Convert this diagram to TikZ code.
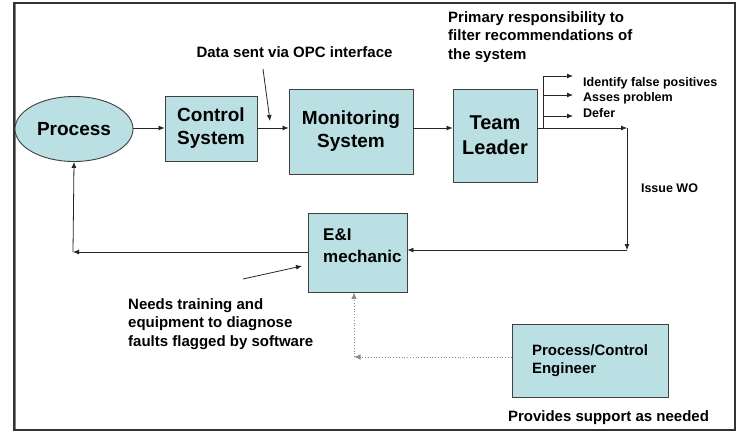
\documentclass[tikz,border=0pt]{standalone}
\usepackage{fontspec}
\setmainfont{Liberation Sans}
\usetikzlibrary{shapes.geometric,arrows.meta}
\definecolor{boxfill}{RGB}{186,224,227}
\definecolor{boxline}{RGB}{64,64,64}
\begin{document}
\begin{tikzpicture}[x=1pt,y=-1pt,
  box/.style={draw=boxline,fill=boxfill,line width=0.9pt,inner sep=0pt},
  big/.style={font=\bfseries\fontsize{19}{23}\selectfont,align=center},
  mid/.style={font=\bfseries\fontsize{15}{18.5}\selectfont,align=left,inner sep=0pt},
  small/.style={font=\bfseries\fontsize{12.5}{15}\selectfont,align=left,inner sep=0pt},
  arr/.style={draw=black!85,line width=0.8pt,-{Latex[length=6pt,width=5pt]}},
  garr/.style={draw=black!45,line width=0.8pt,dotted,-{Latex[length=6.5pt,width=5.5pt]}}]
\useasboundingbox (0,0) rectangle (741,431);
\draw[line width=1.4pt,draw=black!80] (14,3) rectangle (735,430);
\draw[line width=1pt,draw=black!50] (15.5,4) -- (15.5,429);
% nodes
\node[box,ellipse,minimum width=118pt,minimum height=65pt,big] (proc) at (74,129) {Process};
\node[box,minimum width=92pt,minimum height=65pt,big] (ctrl) at (211,128.5) {Control\\System};
\node[box,minimum width=124pt,minimum height=85pt,big] (mon) at (351,131.5) {Monitoring\\System};
\node[box,minimum width=84pt,minimum height=93pt,big,font=\bfseries\fontsize{20}{25}\selectfont] (team) at (495,135.5) {Team\\Leader};
\node[box,minimum width=99pt,minimum height=79pt] (ei) at (357.5,252.5) {};
\node[font=\bfseries\fontsize{17}{22}\selectfont,align=left,inner sep=0pt,anchor=west] (eitext) at (323,246) {E\&I\\mechanic};
\node[box,minimum width=156pt,minimum height=73pt,mid] (eng) at (590,360.5) {Process/Control\\Engineer};
% texts
\node[mid] (opc) at (294.5,52) {Data sent via OPC interface};
\node[mid,anchor=west] (prim) at (448,37) {Primary responsibility to\\filter recommendations of\\the system};
\node[small,anchor=west] (t1) at (583,83) {Identify false positives};
\node[small,anchor=west] (t2) at (583,98) {Asses problem};
\node[small,anchor=west] (t3) at (583,113) {Defer};
\node[small] (wo) at (669.5,188) {Issue WO};
\node[mid,anchor=west] (needs) at (128,324) {Needs training and\\equipment to diagnose\\faults flagged by software};
\node[mid] (prov) at (608.5,418) {Provides support as needed};
% coordinates
\coordinate (c1) at (627,128);
\coordinate (c2) at (627,250);
\coordinate (c3) at (73,252);
\coordinate (c4) at (354,357);
\coordinate (b0) at (543,128);
\coordinate (b1) at (543,76);
\coordinate (b2) at (543,95);
\coordinate (b3) at (543,116);
\coordinate (e1) at (573,76);
\coordinate (e2) at (573,95);
\coordinate (e3) at (573,116);
\coordinate (o1) at (263,69);
\coordinate (o2) at (270,121);
\coordinate (n1) at (243,279);
\coordinate (n2) at (302,266);
% connectors
\draw[arr] (proc.east |- c1) -- (ctrl.west |- c1);
\draw[arr] (ctrl.east |- c1) -- (mon.west |- c1);
\draw[arr] (mon.east |- c1) -- (team.west |- c1);
\draw[arr] (team.east |- c1) -- (c1);
\draw[arr] (c1) -- (c2);
\draw[arr] (c2) -- (ei.east |- c2);
\draw[arr] (ei.west |- c3) -- (c3);
\draw[arr] (c3) -- (proc.south);
\draw[draw=black!85,line width=0.8pt] (b0) -- (b1);
\draw[arr] (b1) -- (e1);
\draw[arr] (b2) -- (e2);
\draw[arr] (b3) -- (e3);
\draw[arr] (o1) -- (o2);
\draw[arr] (n1) -- (n2);
\draw[garr] (eng.west |- c4) -- (c4);
\draw[garr] (c4) -- (c4 |- ei.south);
\end{tikzpicture}
\end{document}
